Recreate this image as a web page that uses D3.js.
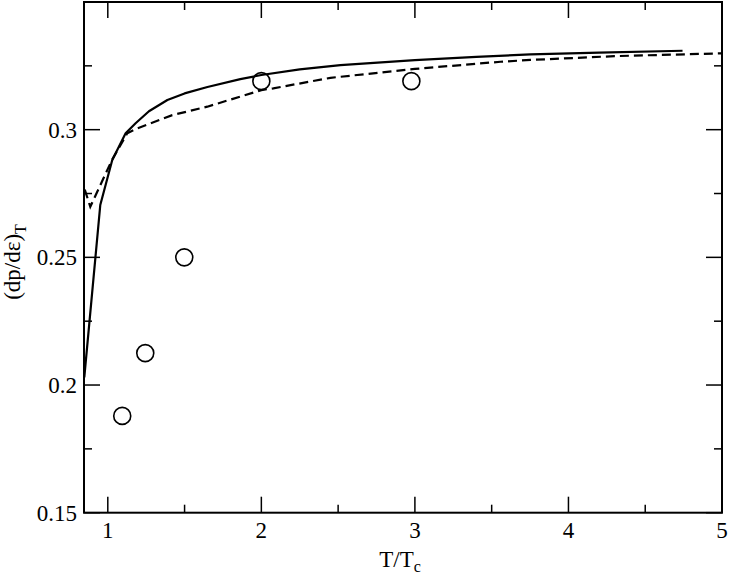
<!DOCTYPE html>
<html>
<head>
<meta charset="utf-8">
<script src="https://cdn.jsdelivr.net/npm/d3@7"></script>
<style>
  html, body { margin: 0; padding: 0; background: #fff; }
  svg { display: block; }
</style>
</head>
<body>
<svg id="chart" width="729" height="574"></svg>
<script>
// ---- data ----
const xTicks = [1, 2, 3, 4, 5];
const xMinorTicks = [1.5, 2.5, 3.5, 4.5];
const yTicks = [0.15, 0.2, 0.25, 0.3];
const yTickLabels = ["0.15", "0.2", "0.25", "0.3"];
const yMinorTicks = [0.175, 0.225, 0.275, 0.325];

const solidX = [0.847, 0.951, 1.029, 1.116, 1.181, 1.268, 1.388, 1.50, 1.649, 1.863, 2.0, 2.25, 2.515, 3.0, 3.4, 3.752, 4.2, 4.743];
const solidY = [0.203, 0.2705, 0.2881, 0.2986, 0.3025, 0.3072, 0.3116, 0.3142, 0.3167, 0.3198, 0.3214, 0.3236, 0.3253, 0.3272, 0.3285, 0.3295, 0.3302, 0.3309];

const dashX = [0.85, 0.886, 1.027, 1.127, 1.192, 1.420, 1.648, 2.0, 2.078, 2.45, 3.0, 3.557, 3.752, 4.3, 5.0];
const dashY = [0.2765, 0.2698, 0.2881, 0.2986, 0.3005, 0.3057, 0.3090, 0.3155, 0.3162, 0.3203, 0.3238, 0.3266, 0.3273, 0.3288, 0.3299];

const circX = [1.094, 1.244, 1.498, 2.0, 2.977];
const circY = [0.1879, 0.2125, 0.2500, 0.3190, 0.3190];

// ---- layout ----
const FONT = "'Liberation Serif', 'Times New Roman', Times, 'DejaVu Serif', serif";
const svg = d3.select("#chart").attr("font-family", FONT);
const L = 84, R = 722, T = 2, B = 512.7;
const x = d3.scaleLinear().domain([0.845, 5]).range([L, R]);
const y = d3.scaleLinear().domain([0.15, 0.35]).range([B, T]);

const majorLen = 16, minorLen = 8;
const g = svg.append("g");

function ticks(values, len) {
  values.forEach(v => {
    g.append("line").attr("x1", x(v)).attr("x2", x(v)).attr("y1", B).attr("y2", B - len)
      .attr("stroke", "#000").attr("stroke-width", 1.5);
    g.append("line").attr("x1", x(v)).attr("x2", x(v)).attr("y1", T).attr("y2", T + len)
      .attr("stroke", "#000").attr("stroke-width", 1.5);
  });
}
function yticks(values, len) {
  values.forEach(v => {
    g.append("line").attr("y1", y(v)).attr("y2", y(v)).attr("x1", L).attr("x2", L + len)
      .attr("stroke", "#000").attr("stroke-width", 1.5);
    g.append("line").attr("y1", y(v)).attr("y2", y(v)).attr("x1", R).attr("x2", R - len)
      .attr("stroke", "#000").attr("stroke-width", 1.5);
  });
}
ticks(xTicks, majorLen);
ticks(xMinorTicks, minorLen);
yticks(yTicks, majorLen);
yticks(yMinorTicks, minorLen);

// frame
g.append("rect").attr("x", L).attr("y", T).attr("width", R - L).attr("height", B - T)
  .attr("fill", "none").attr("stroke", "#000").attr("stroke-width", 2);

// tick labels
xTicks.forEach(v => {
  g.append("text").attr("x", x(v)).attr("y", 538).attr("text-anchor", "middle")
    .attr("font-family", FONT).attr("font-size", 23).attr("fill", "#000").text(String(v));
});
yTicks.forEach((v, i) => {
  g.append("text").attr("x", 77).attr("y", y(v) + 8).attr("text-anchor", "end")
    .attr("font-family", FONT).attr("font-size", 23).attr("fill", "#000").text(yTickLabels[i]);
});

// axis titles
const xt = g.append("text").attr("x", 400).attr("y", 567).attr("text-anchor", "middle")
  .attr("font-family", FONT).attr("font-size", 23);
xt.append("tspan").text("T/T");
xt.append("tspan").attr("font-size", 16).attr("dy", 5).text("c");

const yt = g.append("text").attr("transform", "translate(20,262) rotate(-90)")
  .attr("text-anchor", "middle").attr("font-family", FONT).attr("font-size", 23);
yt.append("tspan").text("(dp/dε)");
yt.append("tspan").attr("font-size", 16).attr("dy", 6).text("T");

// lines
const line = d3.line().x(d => x(d[0])).y(d => y(d[1]));
const solid = solidX.map((v, i) => [v, solidY[i]]);
const dashed = dashX.map((v, i) => [v, dashY[i]]);

g.append("path").datum(solid).attr("d", line).attr("fill", "none")
  .attr("stroke", "#000").attr("stroke-width", 2.2).attr("stroke-linejoin", "round");
g.append("path").datum(dashed).attr("d", line).attr("fill", "none")
  .attr("stroke", "#000").attr("stroke-width", 2.2).attr("stroke-dasharray", "9,5");

// circles
g.selectAll("circle.pt").data(circX.map((v, i) => [v, circY[i]])).enter()
  .append("circle").attr("class", "pt")
  .attr("cx", d => x(d[0])).attr("cy", d => y(d[1])).attr("r", 8.5)
  .attr("fill", "none").attr("stroke", "#000").attr("stroke-width", 1.6);
</script>
</body>
</html>
